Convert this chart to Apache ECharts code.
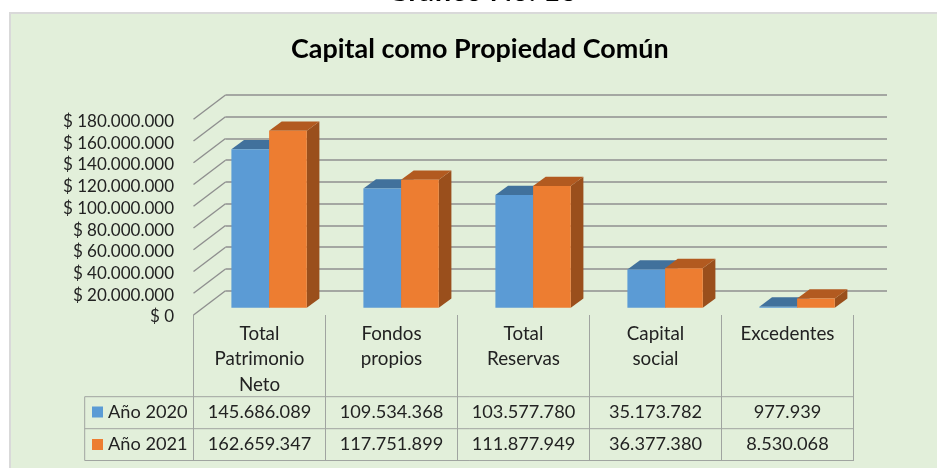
<!DOCTYPE html>
<html>
<head>
<meta charset="utf-8">
<style>html,body{margin:0;padding:0;background:#fff}#chart{width:937px;height:468px}</style>
<script src="https://cdn.jsdelivr.net/npm/echarts@6/dist/echarts.min.js"></script>
</head>
<body>
<div id="chart"></div>
<script>
const categories = ['Total\nPatrimonio\nNeto', 'Fondos\npropios', 'Total\nReservas', 'Capital\nsocial', 'Excedentes'];
const year2020 = [145686089, 109534368, 103577780, 35173782, 977939];
const year2021 = [162659347, 117751899, 111877949, 36377380, 8530068];
const yTicks = [0, 20000000, 40000000, 60000000, 80000000, 100000000, 120000000, 140000000, 160000000, 180000000];

const font = 'Lato, Carlito, sans-serif';
const gridCol = '#8f8f8f';
const tableCol = '#a0a4a0';

// thousands with dots, like the spanish sheet
const fmt = (v) => String(v).replace(/\B(?=(\d{3})+$)/g, '.');

// fake 3D: offsets in px
const wallDx = 32, wallDy = -24.3;
const frontDx = 9.6, frontDy = -7.3;
const depthDx = 12.6, depthDy = -9.3;
const barShare = 0.2856;

function bar3d(seriesIndex, face, top, side) {
  return function (params, api) {
    const i = api.value(0);
    const bandW = api.size([1, 0])[0];
    const w = bandW * barShare;
    const base = api.coord([i, 0]);
    const head = api.coord([i, api.value(1)]);
    const x0 = base[0] + frontDx + (seriesIndex === 0 ? -w : 0);
    const x1 = x0 + w;
    const y0 = base[1] + frontDy;
    const y1 = head[1] + frontDy;
    return {
      type: 'group',
      children: [
        { type: 'polygon', shape: { points: [[x1, y0], [x1 + depthDx, y0 + depthDy], [x1 + depthDx, y1 + depthDy], [x1, y1]] }, style: { fill: side } },
        { type: 'polygon', shape: { points: [[x0, y1], [x1, y1], [x1 + depthDx, y1 + depthDy], [x0 + depthDx, y1 + depthDy]] }, style: { fill: top } },
        { type: 'rect', shape: { x: x0, y: y1, width: w, height: y0 - y1 }, style: { fill: face } }
      ]
    };
  };
}

function tableText(rowY) {
  return function (params, api) {
    const c = api.coord([api.value(0), 0]);
    return {
      type: 'text',
      style: { x: c[0], y: rowY, text: fmt(api.value(1)), font: '18.2px ' + font, fill: '#222', align: 'center', verticalAlign: 'middle' }
    };
  };
}

const option = {
  animation: false,
  backgroundColor: '#fff',
  textStyle: { fontFamily: font },
  title: [
    { text: 'Gráfico No. 16', left: 382, top: -28.5, textStyle: { fontFamily: font, fontSize: 29.5, fontWeight: 'bold', color: '#000' } },
    { text: 'Capital como Propiedad Común', left: 286, top: 30.5, textStyle: { fontFamily: font, fontSize: 26.9, fontWeight: 'bold', color: '#000' } }
  ],
  legend: {
    left: 92, top: 403, orient: 'vertical', itemWidth: 11, itemHeight: 11, itemGap: 14.5, icon: 'rect',
    textStyle: { fontFamily: font, fontSize: 18.2, color: '#222' },
    data: ['Año 2020', 'Año 2021'],
    padding: 0
  },
  graphic: [
    { type: 'rect', z: -10, shape: { x: 10, y: 13, width: 940, height: 470 }, style: { fill: '#E2EFDA', stroke: '#d9d9d9', lineWidth: 2 } },
    { type: 'line', z: 1, shape: { x1: 84.7, y1: 396.7, x2: 853.5, y2: 396.7 }, style: { stroke: tableCol, lineWidth: 1 } },
    { type: 'line', z: 1, shape: { x1: 84.7, y1: 428.7, x2: 853.5, y2: 428.7 }, style: { stroke: tableCol, lineWidth: 1 } },
    { type: 'line', z: 1, shape: { x1: 84.7, y1: 460.5, x2: 853.5, y2: 460.5 }, style: { stroke: tableCol, lineWidth: 1 } },
    { type: 'line', z: 1, shape: { x1: 84.7, y1: 396.7, x2: 84.7, y2: 460.5 }, style: { stroke: tableCol, lineWidth: 1 } }
  ],
  grid: [
    { left: 193.5, width: 660, top: 119.3, height: 195.7 },
    { left: 225.5, width: 661.5, top: 95, height: 195.7 },
    // only carries the y labels, they sit 2px lower than the ticks
    { left: 193.5, width: 660, top: 121.3, height: 195.7 }
  ],
  xAxis: [
    {
      type: 'category', gridIndex: 0, data: categories,
      axisLine: { show: false },
      axisTick: { show: true, length: 146, lineStyle: { color: tableCol, width: 1 } },
      axisLabel: { interval: 0, margin: 6, fontSize: 18.8, lineHeight: 25.5, color: '#222', verticalAlign: 'top' }
    },
    { type: 'category', gridIndex: 1, data: categories, show: false },
    { type: 'category', gridIndex: 2, data: categories, show: false }
  ],
  yAxis: [
    {
      type: 'value', gridIndex: 0, min: 0, max: 180000000, interval: 20000000,
      axisLine: { show: false }, axisTick: { show: false }, splitLine: { show: false }, axisLabel: { show: false }
    },
    {
      type: 'value', gridIndex: 1, min: 0, max: 180000000, interval: 20000000,
      axisLine: { show: false }, axisTick: { show: false }, axisLabel: { show: false },
      splitLine: { show: true, lineStyle: { color: gridCol, width: 1.6 } }
    },
    {
      type: 'value', gridIndex: 2, min: 0, max: 180000000, interval: 20000000,
      axisLine: { show: false }, axisTick: { show: false }, splitLine: { show: false },
      axisLabel: { margin: 19.5, fontSize: 17, color: '#222', formatter: (v) => '$ ' + fmt(v) }
    }
  ],
  series: [
    {
      // diagonal lines on the side wall
      type: 'custom', silent: true, xAxisIndex: 0, yAxisIndex: 0, z: 1, clip: false,
      data: yTicks.map((t) => [0, t]),
      renderItem(params, api) {
        const p = api.coord([0, api.value(1)]);
        const x = params.coordSys.x;
        return { type: 'line', shape: { x1: x, y1: p[1], x2: x + wallDx, y2: p[1] + wallDy }, style: { stroke: gridCol, lineWidth: 1.4 } };
      }
    },
    {
      name: 'Año 2020', type: 'custom', xAxisIndex: 0, yAxisIndex: 0, z: 2, clip: false,
      itemStyle: { color: '#5B9BD5' },
      data: year2020.map((v, i) => [i, v]),
      renderItem: bar3d(0, '#5B9BD5', '#41719C', '#41719C')
    },
    {
      name: 'Año 2021', type: 'custom', xAxisIndex: 0, yAxisIndex: 0, z: 3, clip: false,
      itemStyle: { color: '#ED7D31' },
      data: year2021.map((v, i) => [i, v]),
      renderItem: bar3d(1, '#ED7D31', '#B25A20', '#9A4F1C')
    },
    {
      type: 'custom', silent: true, xAxisIndex: 0, yAxisIndex: 0, z: 4, clip: false,
      data: year2020.map((v, i) => [i, v]), renderItem: tableText(412)
    },
    {
      type: 'custom', silent: true, xAxisIndex: 0, yAxisIndex: 0, z: 4, clip: false,
      data: year2021.map((v, i) => [i, v]), renderItem: tableText(444.5)
    }
  ]
};

const chart = echarts.init(document.getElementById('chart'), null, { renderer: 'canvas' });
chart.setOption(option);
</script>
</body>
</html>
